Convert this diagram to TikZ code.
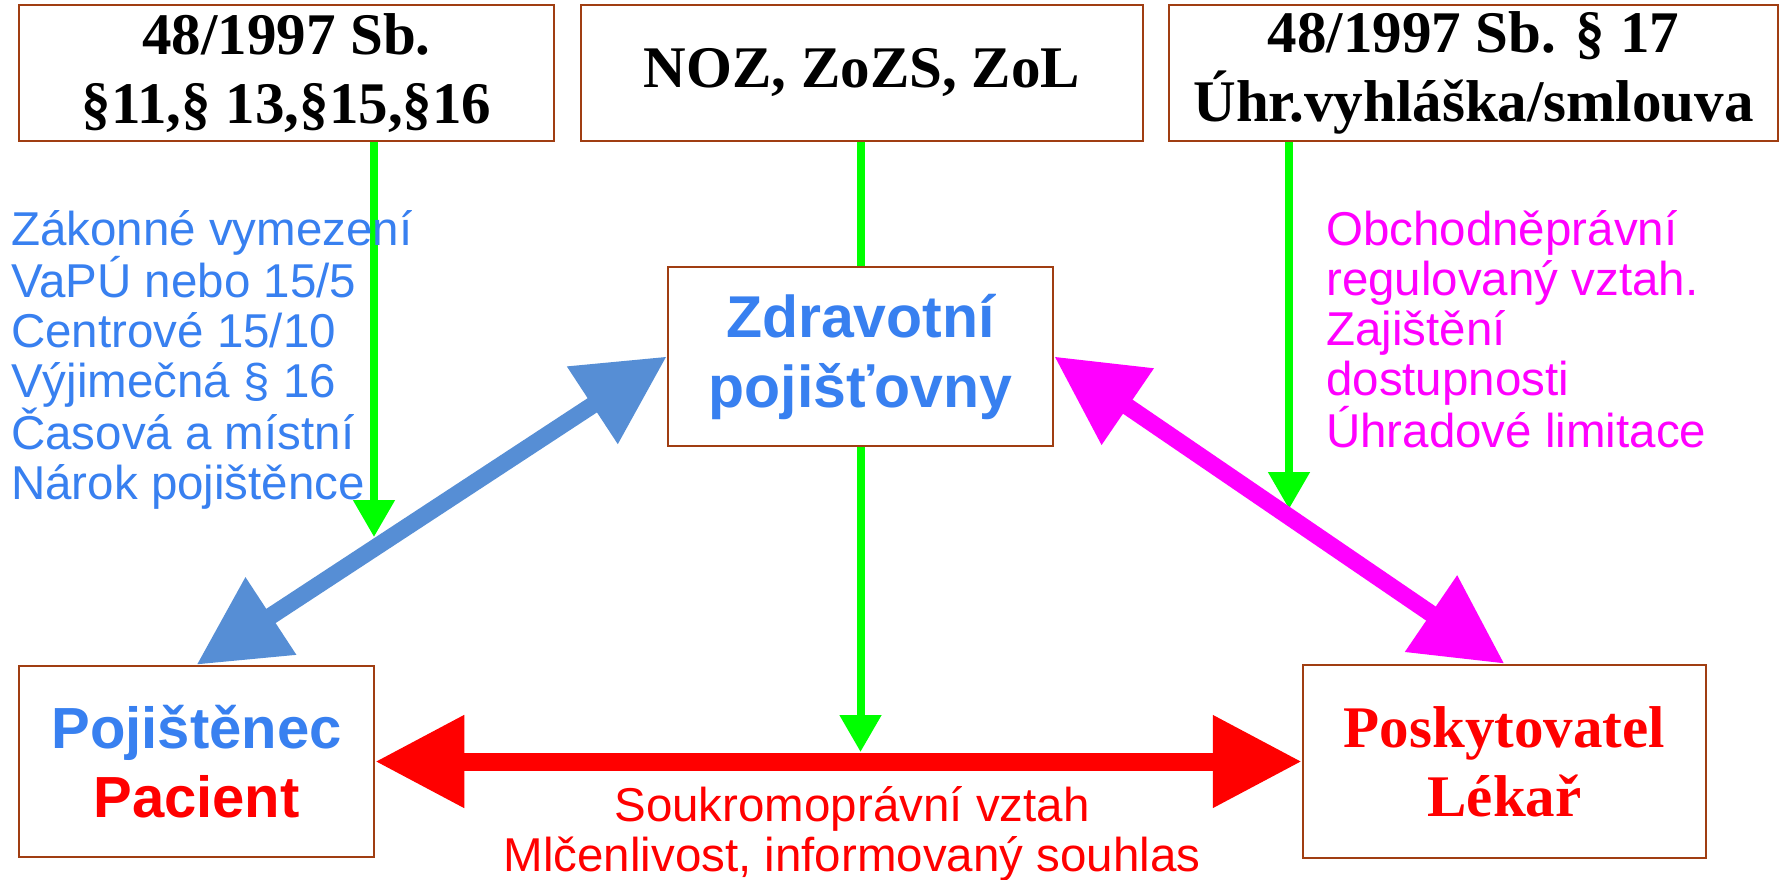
\documentclass[tikz,border=0pt]{standalone}
\usepackage{fontspec}
\setmainfont{Liberation Serif}
\setsansfont{Liberation Sans}
\usetikzlibrary{arrows.meta}
\definecolor{boxbrown}{RGB}{160,62,18}
\definecolor{textblue}{RGB}{56,128,240}
\definecolor{arrowblue}{RGB}{86,142,213}
\definecolor{pgreen}{RGB}{0,255,0}
\definecolor{pred}{RGB}{255,0,0}
\definecolor{pmagenta}{RGB}{255,0,255}
\tikzset{
  box/.style={draw=boxbrown, line width=2.5pt, fill=white, inner sep=0pt, align=center},
  lawfont/.style={font=\fontsize{59}{69}\selectfont\rmfamily\bfseries},
  sansbold/.style={font=\fontsize{59}{70}\selectfont\sffamily\bfseries},
  sanstext/.style={font=\fontsize{47.5}{50}\selectfont\sffamily, inner sep=0pt},
  greenarrow/.style={draw=pgreen, line width=8pt, -{Triangle[length=37pt,width=40pt]}},
  greenline/.style={draw=pgreen, line width=8pt},
  dblarrow/.style={line width=#1, {Triangle[length=89pt,width=88pt]}-{Triangle[length=89pt,width=88pt]}},
}
\begin{document}
\begin{tikzpicture}[x=1pt,y=-1pt]
\useasboundingbox[fill=white] (0,0) rectangle (1781,880);

% boxes
\node[box, lawfont, minimum width=535pt, minimum height=136pt] (law1) at (286.5,73) {48/1997 Sb.\\§11,§ 13,§15,§16};
\node[box, lawfont, minimum width=562pt, minimum height=136pt] (law2) at (862,73) {NOZ, ZoZS, ZoL};
\node[box, lawfont, minimum width=609pt, minimum height=136pt] (law3) at (1473.5,73) {48/1997 Sb. § 17\\Úhr.vyhláška/smlouva};
\node[box, sansbold, text=textblue, minimum width=385pt, minimum height=179pt] (zp) at (860.5,356.5) {Zdravotní\\pojišťovny};
\node[box, font=\fontsize{58}{69}\selectfont\sffamily\bfseries, minimum width=355pt, minimum height=191pt] (pac) at (196.5,761.5) {\textcolor{textblue}{Pojištěnec}\\\textcolor{pred}{Pacient}};
\node[box, lawfont, text=pred, minimum width=403pt, minimum height=193pt] (pos) at (1504.5,761.5) {Poskytovatel\\Lékař};

% free ends of the green arrows
\coordinate (gltip) at (374,537);
\coordinate (grtip) at (1289,509);
\coordinate (gmtip) at (860.5,752);

% green arrows
\draw[greenarrow] (law1.south -| gltip) -- (gltip);
\draw[greenarrow] (law3.south -| grtip) -- (grtip);
\draw[greenline] (law2.south -| zp.north) -- (zp.north);
\draw[greenarrow] (zp.south) -- (gmtip);

% double arrows
\draw[dblarrow=17pt, draw=arrowblue, fill=arrowblue] (pac.north) -- (zp.west);
\draw[dblarrow=17pt, draw=pmagenta, fill=pmagenta] (zp.east) -- (pos.north);
\draw[dblarrow=18pt, draw=pred, fill=pred] (pac.east) -- (pos.west);

% labels
\node[sanstext, text=textblue, align=left, anchor=north west] (lblleft) at (11,210)
  {Zákonné vymezení\\VaPÚ nebo 15/5\\Centrové 15/10\\Výjimečná § 16\\Časová a místní\\Nárok pojištěnce};
\node[sanstext, text=pmagenta, align=left, anchor=north west] (lblright) at (1326,210)
  {Obchodněprávní\\regulovaný vztah.\\Zajištění\\dostupnosti\\Úhradové limitace};
\node[sanstext, text=pred, align=center, anchor=north] (lblbottom) at (852,786)
  {Soukromoprávní vztah\\Mlčenlivost, informovaný souhlas};
\end{tikzpicture}
\end{document}
